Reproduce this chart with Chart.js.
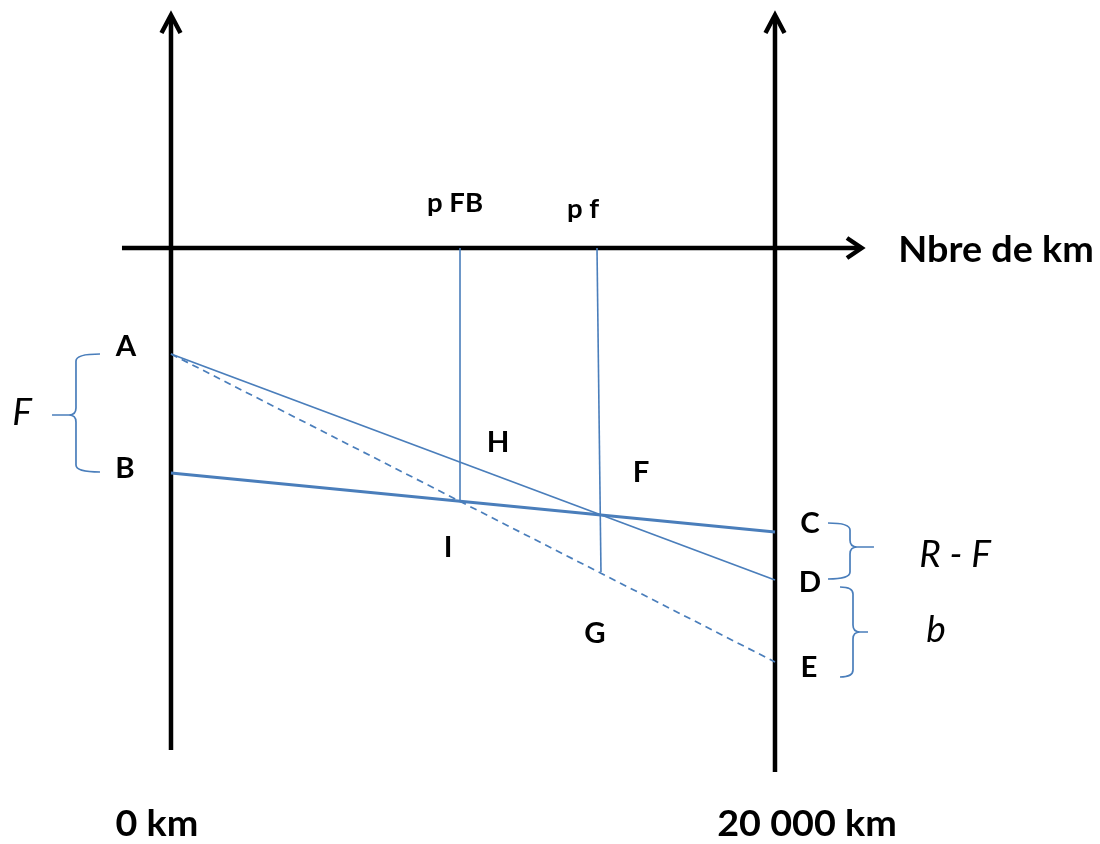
<!DOCTYPE html>
<html>
<head>
<meta charset="utf-8">
<script src="https://cdn.jsdelivr.net/npm/chart.js@4"></script>
<style>
  html, body { margin: 0; padding: 0; background: #fff; }
  #wrap { width: 1100px; height: 844px; position: relative; }
</style>
</head>
<body>
<div id="wrap"><canvas id="chart"></canvas></div>
<script>
// x in km (0 km -> left axis, 20 000 km -> right axis), y in free units (0 = km axis)
const X_RANGE = [-5662, 30762];
const Y_RANGE = [-596, 248];

// black axes
const leftAxis = [{ x: 0, y: -502 }, { x: 0, y: 232 }];
const rightAxis = [{ x: 20000, y: -524 }, { x: 20000, y: 232 }];
const kmAxis = [{ x: -1623, y: 0 }, { x: 22860, y: 0 }];
const leftArrow = [{ x: -315, y: 215 }, { x: 0, y: 233 }, { x: 315, y: 215 }];
const rightArrow = [{ x: 19685, y: 215 }, { x: 20000, y: 233 }, { x: 20315, y: 215 }];
const kmArrow = [{ x: 22384, y: 10 }, { x: 22870, y: 0 }, { x: 22384, y: -10 }];

// blue lines
const lineAD = [{ x: 0, y: -106 }, { x: 20000, y: -332 }];
const lineBC = [{ x: 0, y: -225 }, { x: 20000, y: -284 }];
const lineAE = [{ x: 0, y: -106 }, { x: 20000, y: -414 }];
const linePFB = [{ x: 9570, y: 0 }, { x: 9570, y: -253 }];
const linePF = [{ x: 14106, y: 0 }, { x: 14238, y: -324 }];

// braces: ends x, spine x, tip x, top y, middle y, bottom y
const braceF = [-2351, -3146, -3940, -106, -167, -224];
const braceRF = [21755, 22484, 23278, -275, -299, -331];
const braceB = [22153, 22583, 23080, -339, -384, -429];

// labels
const boldLabels = ['A', 'B', 'C', 'D', 'E', 'H', 'I', 'F', 'G'];
const boldLabelX = [-1490, -1523, 21159, 21159, 21126, 10828, 9172, 15563, 14040];
const boldLabelY = [-108, -230, -285, -344, -429, -204, -309, -234, -395];

const markLabels = ['p FB', 'p f'];
const markLabelX = [9404, 13643];
const markLabelY = [36, 30];

const italicLabels = ['F', 'R - F', 'b'];
const italicLabelX = [-4934, 25961, 25332];
const italicLabelY = [-177, -319, -394];

const titleLabels = ['Nbre de km', '0 km', '20 000 km'];
const titleLabelX = [27318, -464, 21060];
const titleLabelY = [-14, -588, -588];

const BLUE = '#4a7ebb';

function seg(data, color, width, dash) {
  return {
    data,
    showLine: true,
    borderColor: color,
    borderWidth: width,
    borderDash: dash || [],
    borderJoinStyle: 'miter',
    borderCapStyle: 'butt',
    pointRadius: 0,
    fill: false,
    tension: 0
  };
}

const drawExtras = {
  id: 'drawExtras',
  afterDatasetsDraw(chart) {
    const { ctx, scales: { x, y } } = chart;

    // braces
    ctx.save();
    ctx.strokeStyle = BLUE;
    ctx.lineWidth = 1.7;
    [braceF, braceRF, braceB].forEach(b => {
      const xe = x.getPixelForValue(b[0]);
      const xs = x.getPixelForValue(b[1]);
      const xt = x.getPixelForValue(b[2]);
      const yt = y.getPixelForValue(b[3]);
      const ym = y.getPixelForValue(b[4]);
      const yb = y.getPixelForValue(b[5]);
      const dir = Math.sign(xt - xs);
      const r = 7;
      ctx.beginPath();
      ctx.moveTo(xe, yt);
      ctx.quadraticCurveTo(xs, yt, xs, yt + r);
      ctx.lineTo(xs, ym - r);
      ctx.quadraticCurveTo(xs, ym, xs + dir * r, ym);
      ctx.lineTo(xt, ym);
      ctx.moveTo(xs + dir * r, ym);
      ctx.quadraticCurveTo(xs, ym, xs, ym + r);
      ctx.lineTo(xs, yb - r);
      ctx.quadraticCurveTo(xs, yb, xe, yb);
      ctx.stroke();
    });
    ctx.restore();

    // text
    function put(texts, xs, ys, font, stretch) {
      ctx.save();
      ctx.fillStyle = '#000';
      ctx.font = font;
      ctx.textAlign = 'center';
      ctx.textBaseline = 'alphabetic';
      texts.forEach((t, i) => {
        ctx.save();
        ctx.translate(x.getPixelForValue(xs[i]), y.getPixelForValue(ys[i]));
        ctx.scale(stretch, 1);
        ctx.fillText(t, 0, 0);
        ctx.restore();
      });
      ctx.restore();
    }
    put(boldLabels, boldLabelX, boldLabelY, 'bold 28px Lato', 1.05);
    put(markLabels, markLabelX, markLabelY, 'bold 27px Lato', 1.02);
    put(italicLabels, italicLabelX, italicLabelY, 'italic 37px Lato', 1.0);
    put(titleLabels, titleLabelX, titleLabelY, 'bold 37px Lato', 1.02);
  }
};

const data = {
  datasets: [
    seg(lineAE, BLUE, 1.7, [7, 5]),
    seg(lineAD, BLUE, 1.8),
    seg(lineBC, BLUE, 2.8),
    seg(linePFB, BLUE, 1.6),
    seg(linePF, BLUE, 1.6),
    seg(leftAxis, '#000', 4.5),
    seg(rightAxis, '#000', 4.5),
    seg(kmAxis, '#000', 4.5),
    seg(leftArrow, '#000', 4.5),
    seg(rightArrow, '#000', 4.5),
    seg(kmArrow, '#000', 4.5)
  ]
};

const options = {
  responsive: true,
  maintainAspectRatio: false,
  animation: false,
  layout: { padding: 0 },
  plugins: {
    legend: { display: false },
    tooltip: { enabled: false }
  },
  scales: {
    x: { type: 'linear', display: false, min: X_RANGE[0], max: X_RANGE[1] },
    y: { type: 'linear', display: false, min: Y_RANGE[0], max: Y_RANGE[1] }
  }
};

new Chart(document.getElementById('chart'), {
  type: 'scatter',
  data,
  options,
  plugins: [drawExtras]
});
</script>
</body>
</html>
